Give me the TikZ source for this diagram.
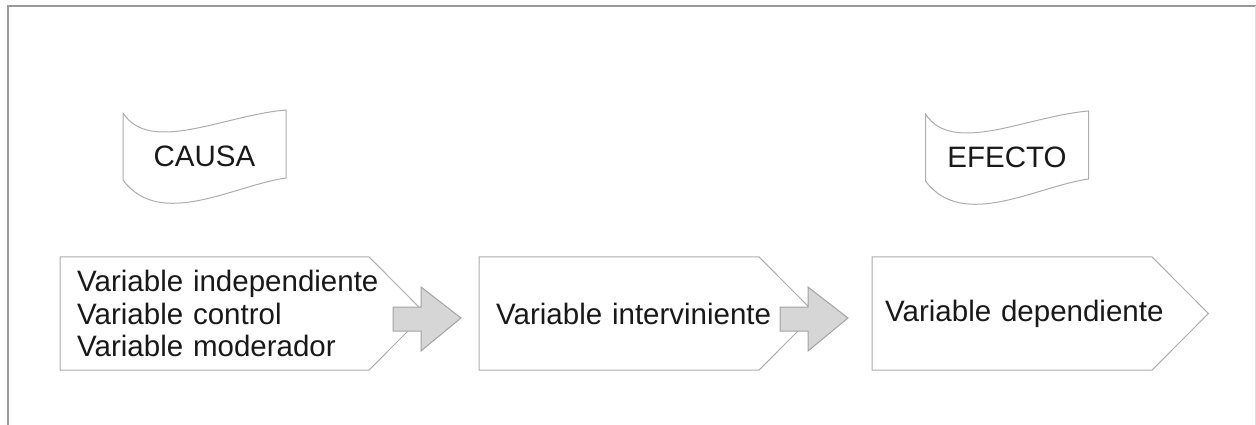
\documentclass[tikz,border=0pt]{standalone}
\usepackage{fontspec}
\setmainfont{Liberation Sans}
\usetikzlibrary{calc}

\tikzset{
  frameline/.style={draw=black!40, line width=1.5pt},
  outline/.style={draw=black!32, line width=1pt, line join=miter},
  vartext/.style={anchor=west, minimum height=113pt, inner ysep=0pt,
    inner xsep=17pt, align=left, text=black!90},
  flagtext/.style={inner sep=0pt, text=black!90},
  arrowbody/.style={draw=black!36, fill=black!16, line width=1pt, line join=miter},
  % wavy banner drawn around its centre
  flag/.pic={
    \draw[outline] (-81.5,-43) .. controls (-54.5,-1) and (20.5,-41) .. (81.5,-46)
      -- (81.5,22) .. controls (30.5,29) and (-44.5,74) .. (-81.5,24) -- cycle;
  },
  % thick block arrow, origin at its tip
  blockarrow/.pic={
    \draw[arrowbody] (0,0) -- (-40,-31) -- (-40,-11) -- (-68,-11) -- (-68,13)
      -- (-40,13) -- (-40,33) -- cycle;
  }
}

\begin{document}
\begin{tikzpicture}[x=1pt, y=-1pt, font=\fontsize{29.5}{32.4}\selectfont]
  \useasboundingbox (0,0) rectangle (1256,425);
  \fill[white] (0,0) rectangle (1256,425);

  % outer frame
  \draw[frameline] (8,440) -- (8,6) -- (1260,6);
  \draw[draw=black!12, line width=1pt] (1255,6) -- (1255,440);

  % banners
  \node[flagtext] (causa) at (204.5,156) {CAUSA};
  \pic at (causa.center) {flag};
  \node[flagtext] (efecto) at (1007,157) {EFECTO};
  \pic at (efecto.center) {flag};

  % variable boxes
  \node[vartext, text width=331pt] (b1) at (60,313.5)
    {Variable independiente\\Variable control\\Variable moderador};
  \node[vartext, text width=302pt] (b2) at (479,313.5) {Variable interviniente};
  \node[vartext, inner xsep=13pt, text width=310pt] (b3) at (872,313.5) {Variable dependiente};

  \foreach \b in {b1,b2,b3}
    \draw[outline] (\b.north west) -- ([xshift=-56.5pt]\b.north east) -- (\b.east)
      -- ([xshift=-56.5pt]\b.south east) -- (\b.south west) -- cycle;

  % arrows between the boxes
  \pic at (461,318) {blockarrow};
  \pic at (848,318) {blockarrow};
\end{tikzpicture}
\end{document}
